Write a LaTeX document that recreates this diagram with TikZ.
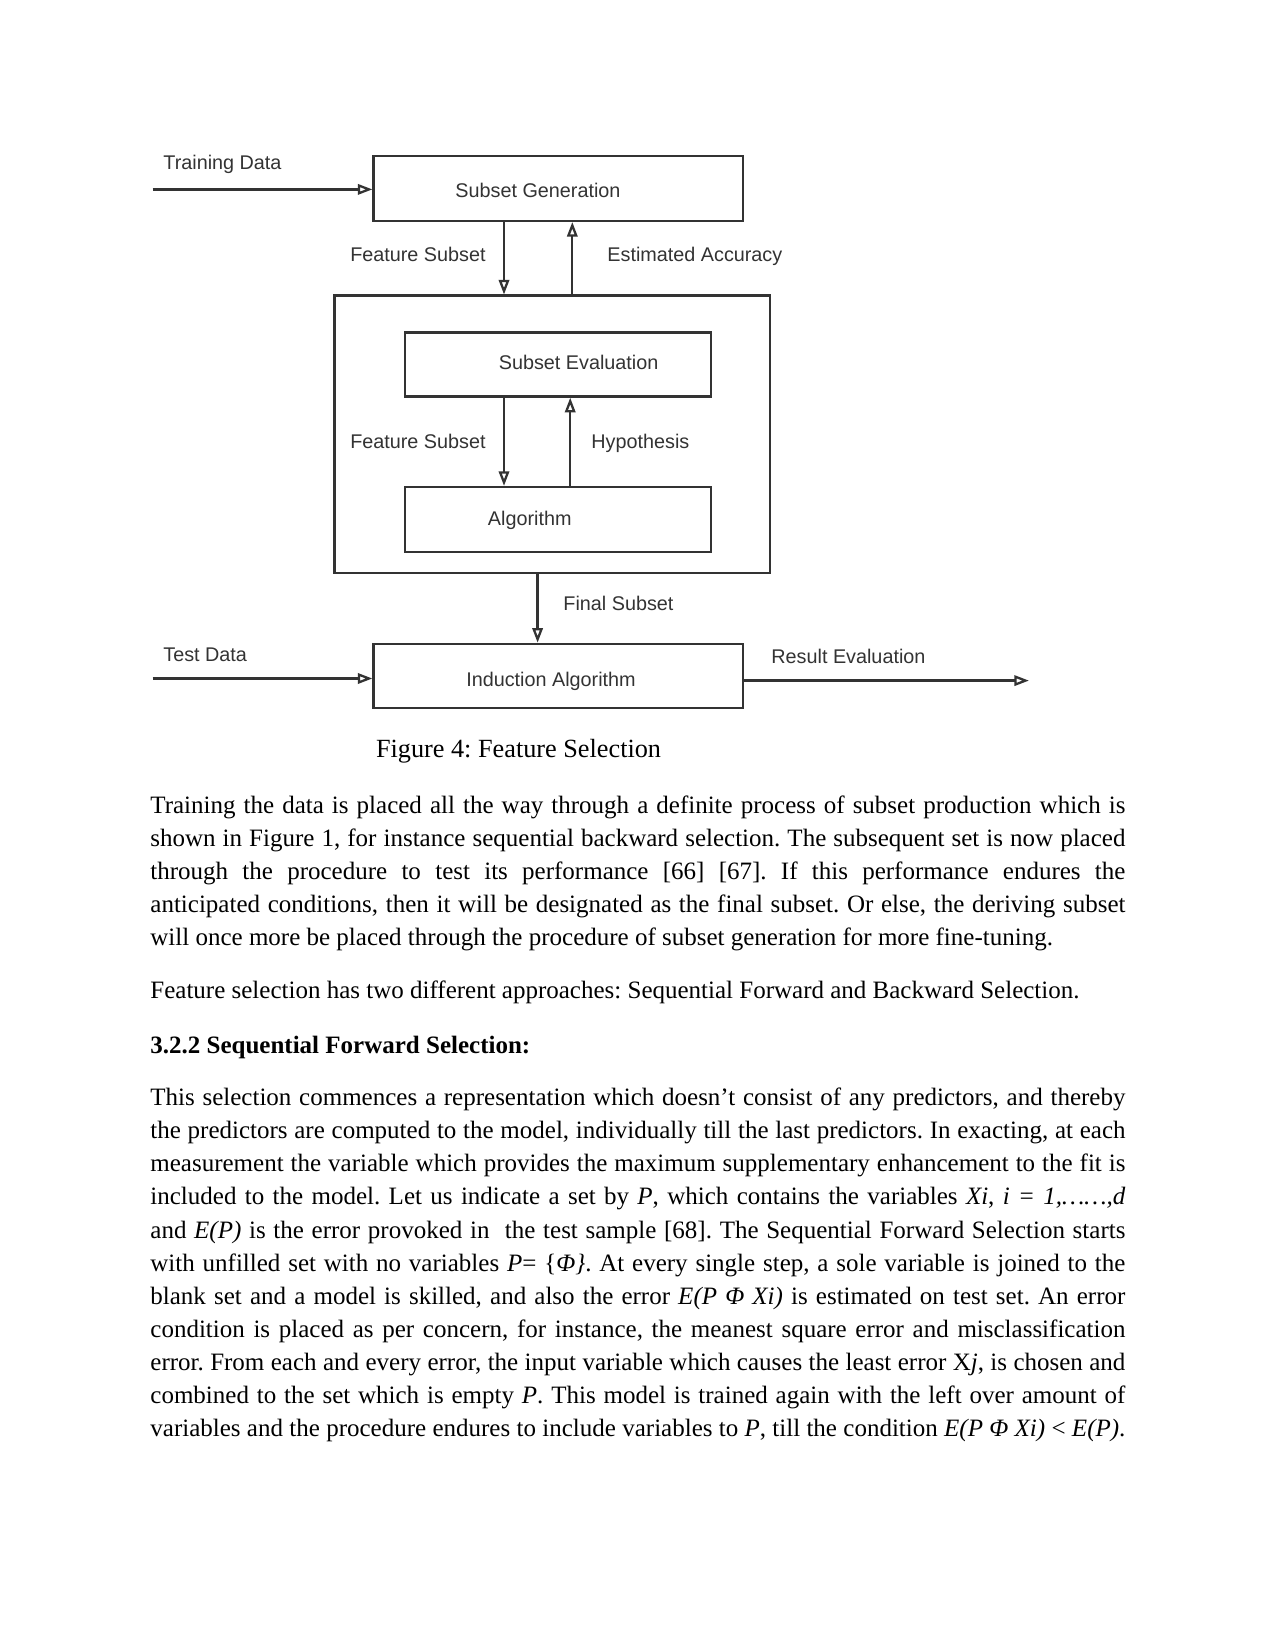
\documentclass[tikz,border=0pt]{standalone}
\usepackage{fontspec}
\setmainfont{Liberation Serif}
\newfontfamily\diagfont{Liberation Sans}
\usetikzlibrary{arrows.meta}
\newlength\pxu \setlength\pxu{0.48pt}
\newlength\linew \setlength\linew{468pt}
\newcommand\jline[1]{\hbox to \linew{#1}}
\definecolor{ink}{gray}{0.2}
\tikzset{
 box/.style={draw=ink, line width=1.1pt, inner sep=0pt, rectangle},
 lbl/.style={font=\diagfont\fontsize{9.5}{11}\selectfont, text=ink, inner sep=0pt},
 arr/.style={draw=ink, line width=1.1pt, -{Triangle[open, length=7pt, width=5pt]}},
 body/.style={font=\fontsize{12}{15}\selectfont\frenchspacing, inner sep=0pt, anchor=base west},
}
\begin{document}
\begin{tikzpicture}[x=0.48pt, y=-0.48pt]
\useasboundingbox[fill=white] (0,0) rectangle (1275,1650);
% boxes
\node[box, minimum width=369.2\pxu, minimum height=65.2\pxu] (SG) at (558.1,188.3) {};
\node[box, minimum width=435.5\pxu, minimum height=277.7\pxu] (OUT) at (552.25,434.45) {};
\node[box, minimum width=306\pxu, minimum height=64.2\pxu] (SE) at (558,364.5) {};
\node[box, minimum width=306\pxu, minimum height=65.3\pxu] (ALG) at (558,519.65) {};
\node[box, minimum width=369.2\pxu, minimum height=64.2\pxu] (IND) at (558.1,675.9) {};
% box texts
\node[lbl, anchor=base] (tSG) at (538,197.5) {Subset Generation};
\node[lbl, anchor=base] (tSE) at (578.6,370) {Subset Evaluation};
\node[lbl, anchor=base] (tALG) at (529.7,525.7) {Algorithm};
\node[lbl, anchor=base] (tIND) at (551,686.6) {Induction Algorithm};
% labels
\node[lbl, anchor=base west] (lTR) at (163,169.1) {Training Data};
\node[lbl, anchor=base east] (lFS1) at (486,261.6) {Feature Subset};
\node[lbl, anchor=base west] (lEA) at (607,261.6) {Estimated Accuracy};
\node[lbl, anchor=base east] (lFS2) at (486,448.9) {Feature Subset};
\node[lbl, anchor=base west] (lHY) at (591,448.9) {Hypothesis};
\node[lbl, anchor=base west] (lFI) at (563,610.9) {Final Subset};
\node[lbl, anchor=base west] (lTE) at (163,661.4) {Test Data};
\node[lbl, anchor=base west] (lRE) at (771,663.5) {Result Evaluation};
% coordinates
\coordinate (tin) at (152.5,189.4);
\coordinate (ein) at (152.5,678.5);
\coordinate (rout) at (1028.9,680.6);
\coordinate (xa) at (504,0);
\coordinate (xb) at (572.3,0);
\coordinate (xc) at (570.2,0);
\coordinate (xd) at (537.6,0);
% connectors
\draw[arr] (tin) -- (tin -| SG.west);
\draw[arr] (xa |- SG.south) -- (xa |- OUT.north);
\draw[arr] (xb |- OUT.north) -- (xb |- SG.south);
\draw[arr] (xa |- SE.south) -- (xa |- ALG.north);
\draw[arr] (xc |- ALG.north) -- (xc |- SE.south);
\draw[arr] (xd |- OUT.south) -- (xd |- IND.north);
\draw[arr] (ein) -- (ein -| IND.west);
\draw[arr] (rout -| IND.east) -- (rout);
% caption
\node[body, font=\fontsize{12.6}{15}\selectfont\frenchspacing] (cap) at (375.6,757) {Figure 4: Feature Selection};
% paragraph 1
\node[body] (p1a) at (150,813) {\jline{Training the data is placed all the way through a definite process of subset production which is}};
\node[body] (p1b) at (150,846) {\jline{shown in Figure 1, for instance sequential backward selection. The subsequent set is now placed}};
\node[body] (p1c) at (150,879) {\jline{through the procedure to test its performance [66] [67]. If this performance endures the}};
\node[body] (p1d) at (150,912) {\jline{anticipated conditions, then it will be designated as the final subset. Or else, the deriving subset}};
\node[body] (p1e) at (150,945) {will once more be placed through the procedure of subset generation for more fine-tuning.};
% paragraph 2
\node[body] (p2) at (150,998) {Feature selection has two different approaches: Sequential Forward and Backward Selection.};
% heading
\node[body] (h) at (150,1053) {\textbf{3.2.2 Sequential Forward Selection:}};
% paragraph 3
\node[body] (p3a) at (150,1105) {\jline{This selection commences a representation which doesn’t consist of any predictors, and thereby}};
\node[body] (p3b) at (150,1138) {\jline{the predictors are computed to the model, individually till the last predictors. In exacting, at each}};
\node[body] (p3c) at (150,1171) {\jline{measurement the variable which provides the maximum supplementary enhancement to the fit is}};
\node[body] (p3d) at (150,1204) {\jline{included to the model. Let us indicate a set by \textit{P}, which contains the variables \textit{Xi}, \textit{i = 1,……,d}}};
\node[body] (p3e) at (150,1238) {\jline{and \textit{E(P)} is the error provoked in\ \ the test sample [68]. The Sequential Forward Selection starts}};
\node[body] (p3f) at (150,1271) {\jline{with unfilled set with no variables \textit{P}= \{\textit{Φ\}}. At every single step, a sole variable is joined to the}};
\node[body] (p3g) at (150,1304) {\jline{blank set and a model is skilled, and also the error \textit{E(P Φ Xi)} is estimated on test set. An error}};
\node[body] (p3h) at (150,1337) {\jline{condition is placed as per concern, for instance, the meanest square error and misclassification}};
\node[body] (p3i) at (150,1370) {\jline{error. From each and every error, the input variable which causes the least error X\textit{j}, is chosen and}};
\node[body] (p3j) at (150,1403) {\jline{combined to the set which is empty \textit{P}. This model is trained again with the left over amount of}};
\node[body] (p3k) at (150,1436) {\jline{variables and the procedure endures to include variables to \textit{P}, till the condition \textit{E(P Φ Xi)} < \textit{E(P)}.}};
\end{tikzpicture}
\end{document}
